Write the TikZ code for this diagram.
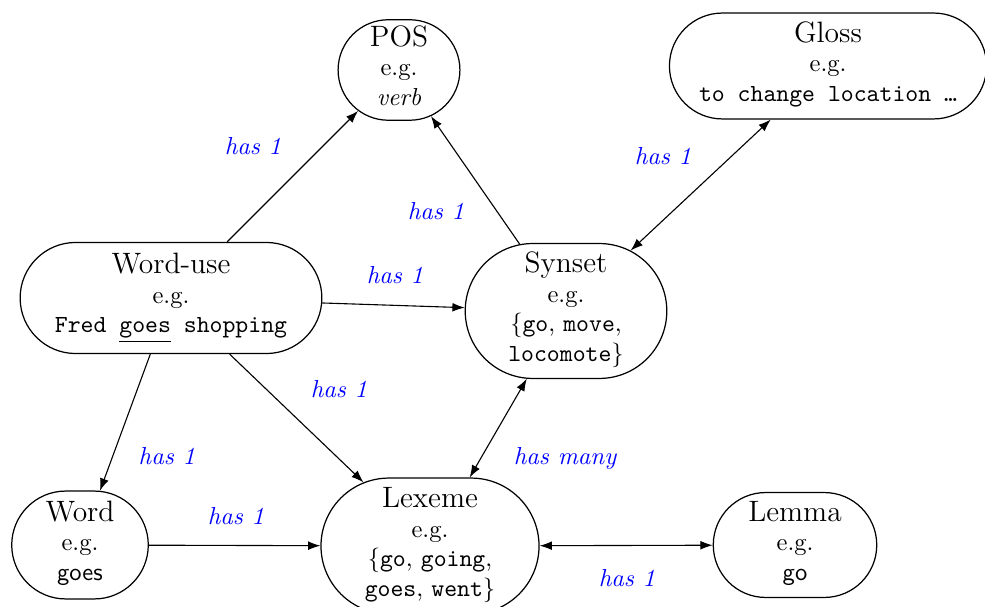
\documentclass[tikz,border=0pt]{standalone}
\usetikzlibrary{shapes.misc,arrows.meta}
\newcommand\entbox[1]{\makebox[0pt]{\begin{tabular}{@{}c@{}}#1\end{tabular}}}
\begin{document}
\begin{tikzpicture}[x=0.407pt,y=-0.407pt,
  ent/.style 2 args={draw, rounded rectangle, inner xsep=#1, inner ysep=0pt,
    minimum height=#2, minimum width=0pt, line width=0.5pt},
  lab/.style={text=blue, font=\itshape},
  arr/.style={-{Latex[length=5pt,width=3.6pt]}, line width=0.45pt},
  darr/.style={{Latex[length=5pt,width=3.6pt]}-{Latex[length=5pt,width=3.6pt]}, line width=0.45pt}]
\useasboundingbox (0,0) rectangle (985,607);

\node[ent={14pt}{40.9pt}] (pos) at (399,70)
  {\entbox{{\large POS}\\e.g.\\\textit{verb}}};
\node[ent={54.8pt}{43.1pt}] (gloss) at (828,66)
  {\entbox{{\large Gloss}\\e.g.\\\texttt{to change location …}}};
\node[ent={52pt}{45.2pt}] (wu) at (171,298)
  {\entbox{{\large Word-use}\\e.g.\\\texttt{Fred \underline{goes} shopping}}};
\node[ent={26.85pt}{54.9pt}] (syn) at (566,311)
  {\entbox{{\large Synset}\\e.g.\\\{\texttt{go}, \texttt{move},\\\texttt{locomote}\}}};
\node[ent={18.4pt}{43.9pt}] (word) at (80,545)
  {\entbox{{\large Word}\\e.g.\\\textsf{goes}}};
\node[ent={30.45pt}{55.3pt}] (lex) at (430,546)
  {\entbox{{\large Lexeme}\\e.g.\\\{\texttt{go}, \texttt{going},\\\texttt{goes}, \texttt{went}\}}};
\node[ent={23.4pt}{42.7pt}] (lemma) at (795,545)
  {\entbox{{\large Lemma}\\e.g.\\\textsf{go}}};

\draw[arr] (wu) -- (pos);
\draw[arr] (syn) -- (pos);
\draw[darr] (syn) -- (gloss);
\draw[arr] (wu) -- (syn);
\draw[arr] (wu) -- (lex);
\draw[arr] (wu) -- (word);
\draw[darr] (syn) -- (lex);
\draw[arr] (word) -- (lex);
\draw[darr] (lex) -- (lemma);

\node[lab] (l1) at (253,146) {has 1};
\node[lab] (l2) at (436,211) {has 1};
\node[lab] (l3) at (663,156) {has 1};
\node[lab] (l4) at (395,275) {has 1};
\node[lab] (l5) at (339,389) {has 1};
\node[lab] (l6) at (167,456) {has 1};
\node[lab] (l7) at (565,458) {has many};
\node[lab] (l8) at (236,516) {has 1};
\node[lab] (l9) at (627,578) {has 1};
\end{tikzpicture}
\end{document}
